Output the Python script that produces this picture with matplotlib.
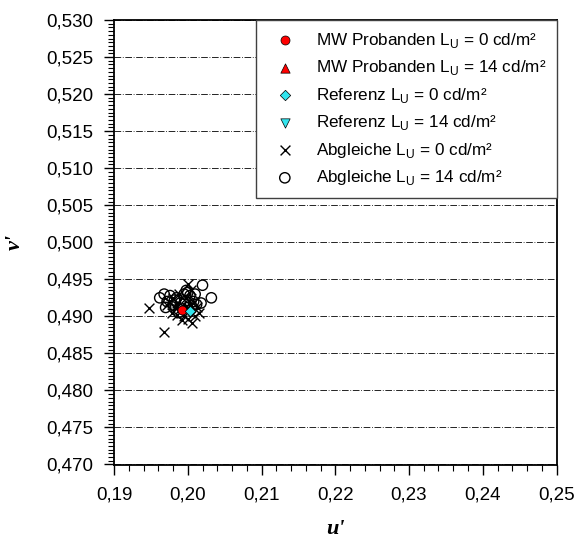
import matplotlib
matplotlib.use('Agg')
import matplotlib.pyplot as plt
from matplotlib.ticker import MultipleLocator, FuncFormatter

plt.rcParams['font.family'] = ['Liberation Sans', 'DejaVu Sans']

# ── data ───────────────────────────────────────────────────────────────────────
abg0_u = [0.1948, 0.1968, 0.1975, 0.1980, 0.1985, 0.1990, 0.1978, 0.1995, 0.2000, 0.2005,
          0.2006, 0.2010, 0.2015, 0.1988, 0.1997, 0.2003, 0.1992, 0.1983, 0.1998, 0.2008,
          0.1972, 0.2012, 0.1986, 0.2001]
abg0_v = [0.4911, 0.4879, 0.4920, 0.4925, 0.4918, 0.4910, 0.4905, 0.4900, 0.4944, 0.4935,
          0.4891, 0.4900, 0.4905, 0.4930, 0.4925, 0.4915, 0.4895, 0.4912, 0.4908, 0.4920,
          0.4915, 0.4912, 0.4902, 0.4897]

abg14_u = [0.1962, 0.1968, 0.1972, 0.1976, 0.1980, 0.1985, 0.1990, 0.1995, 0.1998, 0.2000,
           0.2003, 0.2008, 0.2012, 0.2020, 0.2032, 0.2018, 0.1993, 0.2000, 0.1988, 0.1997,
           0.2005, 0.1982, 0.2010, 0.1970]
abg14_v = [0.4925, 0.4930, 0.4920, 0.4928, 0.4915, 0.4925, 0.4918, 0.4930, 0.4935, 0.4932,
           0.4928, 0.4920, 0.4916, 0.4942, 0.4925, 0.4918, 0.4910, 0.4912, 0.4905, 0.4920,
           0.4910, 0.4922, 0.4930, 0.4912]

mw0 = (0.1992, 0.4909)
mw14 = (0.1995, 0.4912)
ref0 = (0.2003, 0.4907)
ref14 = (0.2002, 0.4906)

fig = plt.figure(figsize=(5.79, 5.40), dpi=100)
ax = fig.add_axes([114 / 579, 75.5 / 540, 442.5 / 579, 444.5 / 540])

ax.yaxis.grid(True, color='black', linewidth=0.6, linestyle=(0, (8, 2, 1, 2)))
ax.set_axisbelow(True)

lu = 'L$_\\mathregular{U}$'
ax.scatter(mw0[0], mw0[1], marker='o', s=42, c='red', edgecolors='black', linewidths=0.5,
           zorder=5, label=f'MW Probanden {lu} = 0 cd/m²')
ax.scatter(mw14[0], mw14[1], marker='^', s=45, c='red', edgecolors='black', linewidths=0.5,
           zorder=2, label=f'MW Probanden {lu} = 14 cd/m²')
ax.scatter(ref0[0], ref0[1], marker='D', s=28, c='#33e5ee', edgecolors='black', linewidths=0.5,
           zorder=5, label=f'Referenz {lu} = 0 cd/m²')
ax.scatter(ref14[0], ref14[1], marker='v', s=45, c='#33e5ee', edgecolors='black', linewidths=0.5,
           zorder=2, label=f'Referenz {lu} = 14 cd/m²')
ax.scatter(abg0_u, abg0_v, marker='x', s=50, c='black', linewidths=1.0,
           zorder=3, label=f'Abgleiche {lu} = 0 cd/m²')
ax.scatter(abg14_u, abg14_v, marker='o', s=55, facecolors='none', edgecolors='black',
           linewidths=1.0, zorder=3, label=f'Abgleiche {lu} = 14 cd/m²')

ax.set_xlim(0.19, 0.25)
ax.set_ylim(0.470, 0.530)
ax.xaxis.set_major_locator(MultipleLocator(0.01))
ax.xaxis.set_minor_locator(MultipleLocator(0.002))
ax.yaxis.set_major_locator(MultipleLocator(0.005))
ax.yaxis.set_minor_locator(MultipleLocator(0.0005))
ax.xaxis.set_major_formatter(FuncFormatter(lambda v, p: f'{v:.2f}'.replace('.', ',')))
ax.yaxis.set_major_formatter(FuncFormatter(lambda v, p: f'{v:.3f}'.replace('.', ',')))
ax.tick_params(which='major', direction='out', length=7, width=1, labelsize=13.5)
ax.tick_params(axis='y', which='major', pad=8)
ax.tick_params(axis='x', which='major', pad=9)
ax.tick_params(which='minor', direction='out', length=4, width=0.8)
for s in ax.spines.values():
    s.set_linewidth(1.3)

ax.set_xlabel("u'", fontsize=16, family='Liberation Serif', fontweight='bold',
              style='italic', labelpad=11)
ax.set_ylabel("v'", fontsize=16, family='Liberation Serif', fontweight='bold',
              style='italic', labelpad=15)

leg = ax.legend(loc='upper right', fontsize=12.3, frameon=True, fancybox=False,
                edgecolor='#404040', framealpha=1, borderaxespad=0,
                handlelength=2.1, handletextpad=0.75, labelspacing=0.5,
                borderpad=0.62, scatterpoints=1)
leg.get_frame().set_linewidth(1.0)

fig.savefig('out.png', dpi=100)
